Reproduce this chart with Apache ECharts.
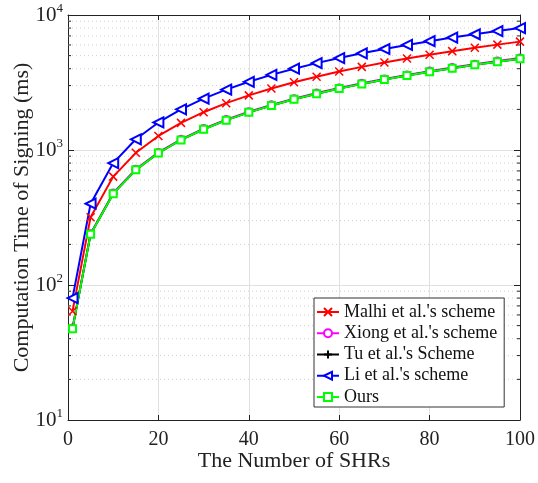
<!DOCTYPE html>
<html>
<head>
<meta charset="utf-8">
<script src="https://cdn.jsdelivr.net/npm/echarts@6/dist/echarts.min.js"></script>
<style>
  html, body { margin: 0; padding: 0; background: #fff; }
  #chart { width: 538px; height: 483px; }
</style>
</head>
<body>
<div id="chart"></div>
<script>
// number of SHRs on the x axis
const shrs = [1, 5, 10, 15, 20, 25, 30, 35, 40, 45, 50, 55, 60, 65, 70, 75, 80, 85, 90, 95, 100];

// signing time (ms)
const malhi = [64, 318, 635, 953, 1270, 1588, 1905, 2223, 2540, 2858, 3175, 3493, 3810, 4128, 4445, 4763, 5080, 5398, 5715, 6033, 6350];
const xiong = [48, 240, 480, 720, 960, 1200, 1440, 1680, 1920, 2160, 2400, 2640, 2880, 3120, 3360, 3600, 3840, 4080, 4320, 4560, 4800];
const tu    = [47.5, 238, 475, 713, 950, 1188, 1425, 1663, 1900, 2138, 2375, 2613, 2850, 3088, 3325, 3563, 3800, 4038, 4275, 4513, 4750];
const li    = [80, 400, 800, 1200, 1600, 2000, 2400, 2800, 3200, 3600, 4000, 4400, 4800, 5200, 5600, 6000, 6400, 6800, 7200, 7600, 8000];
const ours  = [47.5, 238, 475, 713, 950, 1188, 1425, 1663, 1900, 2138, 2375, 2613, 2850, 3088, 3325, 3563, 3800, 4038, 4275, 4513, 4750];

const seriesNames = ["Malhi et al.'s scheme", "Xiong et al.'s scheme", "Tu et al.'s Scheme", "Li et al.'s scheme", "Ours"];

// minor grid values on the log axis (2..9 of each decade)
const minorVals = [20, 30, 40, 50, 60, 70, 80, 90, 200, 300, 400, 500, 600, 700, 800, 900,
                   2000, 3000, 4000, 5000, 6000, 7000, 8000, 9000];

const FONT = "Liberation Serif";

function pairs(ys) {
  return shrs.map((x, i) => [x, ys[i]]);
}

let myChart = echarts.init(document.getElementById("chart"), null, { renderer: "canvas" });

function lineSeries(name, data, color, symbol, size, extra) {
  return Object.assign({
    name: name,
    type: "line",
    data: pairs(data),
    symbol: symbol,
    symbolSize: size,
    showAllSymbol: true,
    lineStyle: { color: color, width: 2 },
    itemStyle: { color: color, borderColor: color, borderWidth: 1.5 },
    emphasis: { disabled: true },
    z: 3
  }, extra || {});
}

let option = {
  animation: false,
  backgroundColor: "#fff",
  textStyle: { fontFamily: FONT },
  grid: { left: 68, right: 18, top: 15, bottom: 63, outerBoundsMode: "none", containLabel: false },
  legend: {
    orient: "vertical",
    left: 314,
    top: 298,
    data: seriesNames,
    itemWidth: 22,
    itemHeight: 10,
    itemGap: 3.25,
    padding: [5, 7, 1, 2],
    backgroundColor: "#fff",
    borderColor: "#333",
    borderWidth: 1,
    borderRadius: 0,
    textStyle: { fontFamily: FONT, fontSize: 18, color: "#111", lineHeight: 18 }
  },
  xAxis: [
    {
      type: "value",
      min: 0, max: 100, interval: 20,
      name: "The Number of SHRs",
      nameLocation: "middle",
      nameGap: 30,
      nameMoveOverlap: false,
      nameTextStyle: { fontFamily: FONT, fontSize: 22, color: "#222" },
      axisLine: { onZero: false, lineStyle: { color: "#222", width: 1 } },
      axisTick: { inside: true, length: 5, lineStyle: { color: "#222" } },
      axisLabel: { margin: 10, fontFamily: FONT, fontSize: 20, color: "#222" },
      splitLine: { show: true, lineStyle: { color: "#e0e0e0", width: 1 } }
    },
    {
      type: "value",
      position: "top",
      min: 0, max: 100, interval: 20,
      axisLine: { onZero: false, lineStyle: { color: "#222", width: 1 } },
      axisTick: { inside: true, length: 5, lineStyle: { color: "#222" } },
      axisLabel: { show: false },
      splitLine: { show: false }
    }
  ],
  yAxis: [
    {
      type: "log",
      logBase: 10,
      min: 10, max: 10000,
      name: "Computation Time of Signing (ms)",
      nameLocation: "middle",
      nameGap: 35,
      nameMoveOverlap: false,
      nameTextStyle: { fontFamily: FONT, fontSize: 22, color: "#222" },
      axisLine: { onZero: false, lineStyle: { color: "#222", width: 1 } },
      axisTick: { inside: true, length: 6, lineStyle: { color: "#222" } },
      axisLabel: {
        margin: 5,
        formatter: function (v) {
          return "10{sup|" + Math.round(Math.log10(v)) + "}";
        },
        fontFamily: FONT, fontSize: 21, color: "#222",
        rich: { sup: { fontFamily: FONT, fontSize: 13, verticalAlign: "top", padding: [0, 0, 12, 0], color: "#222" } }
      },
      splitLine: { show: true, lineStyle: { color: "#e0e0e0", width: 1 } }
    },
    {
      type: "log",
      logBase: 10,
      position: "right",
      min: 10, max: 10000,
      axisLine: { onZero: false, lineStyle: { color: "#222", width: 1 } },
      axisTick: { inside: true, length: 6, lineStyle: { color: "#222" } },
      axisLabel: { show: false },
      splitLine: { show: false }
    }
  ],
  series: [
    {
      // dotted minor grid + minor ticks on both y edges
      type: "custom",
      coordinateSystem: "cartesian2d",
      silent: true,
      z: 1,
      data: minorVals.map(v => [0, v]),
      encode: { x: 0, y: 1 },
      renderItem: function (params, api) {
        const v = api.value(1);
        const a = api.coord([0, v]);
        const b = api.coord([100, v]);
        const tick = { stroke: "#222", lineWidth: 1 };
        return {
          type: "group",
          children: [
            { type: "line", shape: { x1: a[0], y1: a[1], x2: b[0], y2: b[1] },
              style: { stroke: "#cfcfcf", lineWidth: 1, lineDash: [1, 3] } },
            { type: "line", shape: { x1: a[0], y1: a[1], x2: a[0] + 3, y2: a[1] }, style: tick },
            { type: "line", shape: { x1: b[0], y1: b[1], x2: b[0] - 3, y2: b[1] }, style: tick }
          ]
        };
      }
    },
    lineSeries(seriesNames[0], malhi, "#ff0000", "path://M0,0L10,10M10,0L0,10", 8),
    lineSeries(seriesNames[1], xiong, "#ff00ff", "emptyCircle", 7),
    lineSeries(seriesNames[2], tu, "#000000", "path://M5,0L5,10M0,5L10,5", 8),
    lineSeries(seriesNames[3], li, "#0000ff", "emptyTriangle", 10, { symbolRotate: 90 }),
    lineSeries(seriesNames[4], ours, "#00ff00", "emptyRect", 7)
  ]
};

myChart.setOption(option);
</script>
</body>
</html>
